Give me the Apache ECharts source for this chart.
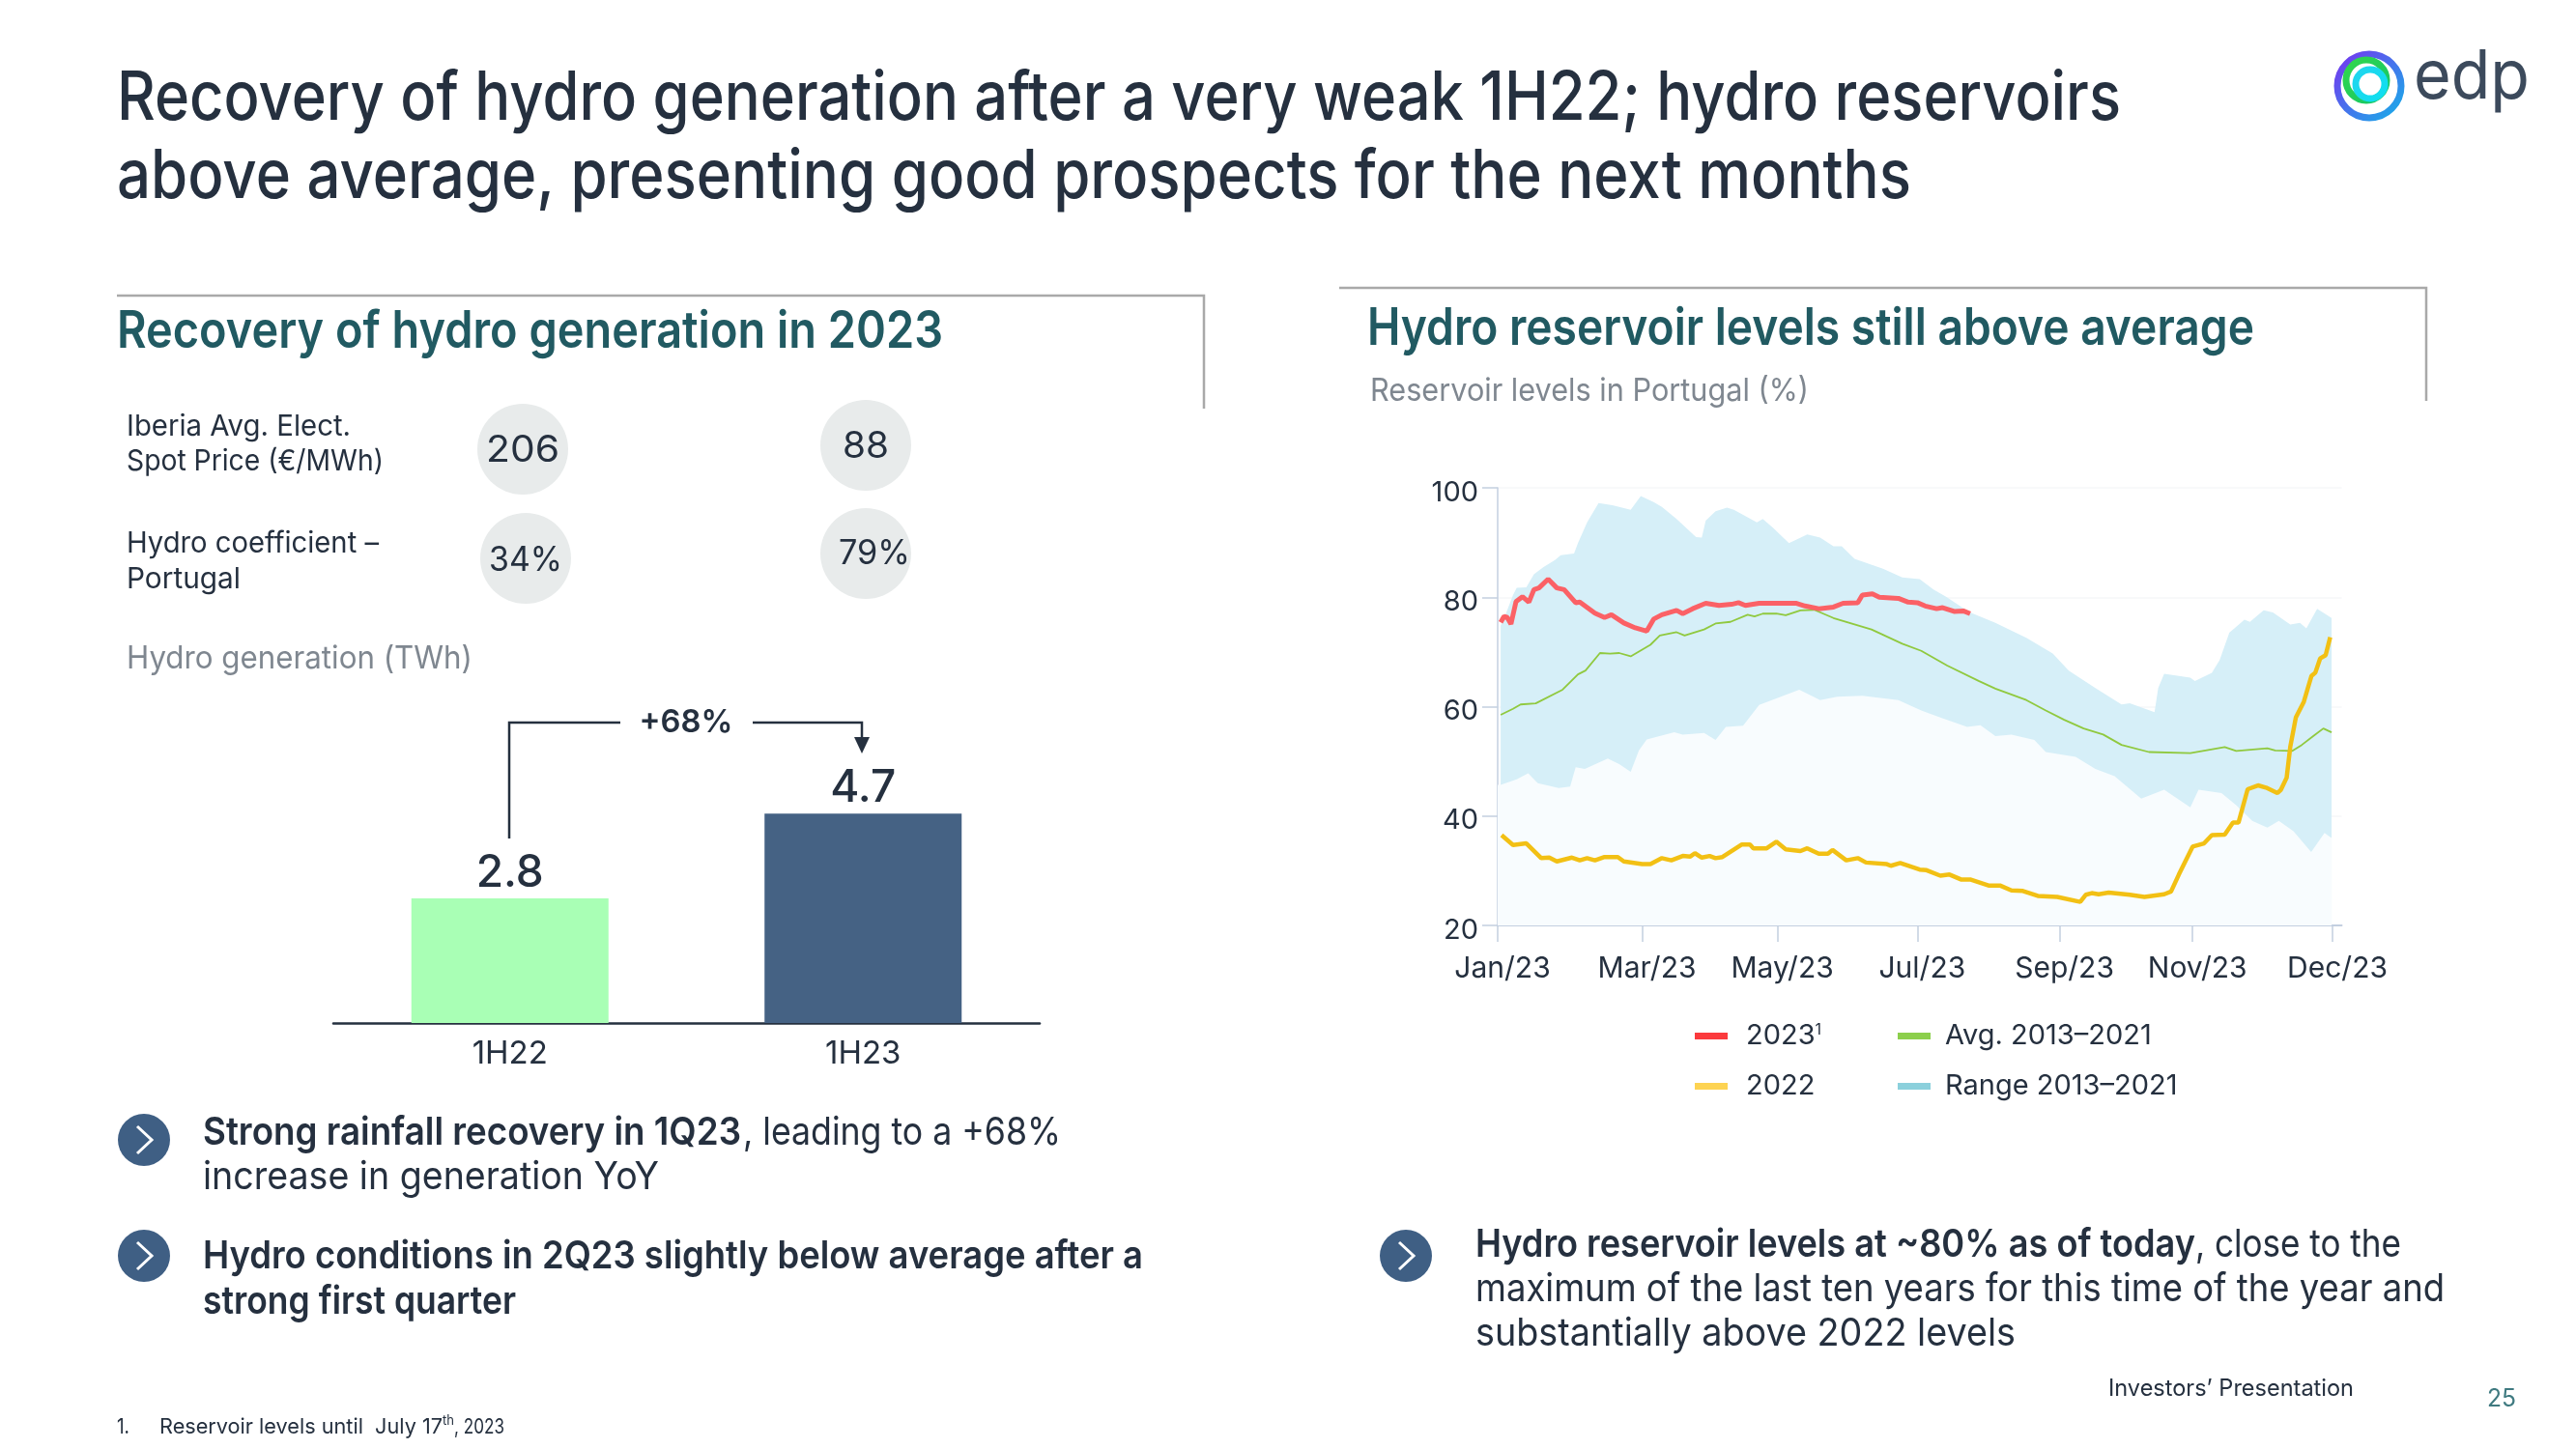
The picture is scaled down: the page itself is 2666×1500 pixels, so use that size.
<!DOCTYPE html>
<html><head><meta charset="utf-8">
<style>html,body{margin:0;padding:0;background:#fff}#c{width:2666px;height:1500px}</style>
<script src="https://cdn.jsdelivr.net/npm/echarts@6/dist/echarts.min.js"></script>
</head><body><div id="c"></div>
<script>
const barCategories=['1H22','1H23'];
const barValues=[2.8,4.7];
const tickDays=[0,63,122,183,245,303,364];
const tickNames=['Jan/23','Mar/23','May/23','Jul/23','Sep/23','Nov/23','Dec/23'];
const upperDays=[1.3,3.3,6.7,8.3,12.5,15.8,20,25,27.5,33.3,35,39,44,50,58,62.4,68,71.6,78,86.5,89,90.7,95,100,103,113,115.6,120,127,135,140.6,146.4,150,155.6,168,176.4,184,190,195.5,205.5,217,230.5,242,249,260.6,272,275.6,286.4,288,290.6,302,304,311.4,314.8,319,325.6,328,334,338,345.6,349.8,352.6,357.3,363.6];
const upperVals=[74.8,76.7,80.4,81.7,81.8,84.2,85.5,86.8,87.7,88,89.9,93.7,97.2,96.8,96,98.5,97.4,96.5,94.3,91,90.9,94,95.7,96.4,96,93.7,94.3,92.7,89.9,91.5,90.9,89.3,89.3,87,85.2,83.6,83.3,81.4,80.1,77.3,75.3,72.6,69.7,66.6,63.4,60.4,60.6,59,63.4,66,65.3,64.7,66.2,68.5,73.5,75.9,75.5,77.6,77.2,75,75.3,74.3,77.9,76.2];
const lowerDays=[0,1.3,8.3,13.3,17.5,26.6,31.6,34,38,48,53,58,61.6,65,77,80.7,90,95,99.5,107,114,121.5,131.5,140.6,148,159,174.7,184.7,193,204.7,210.5,217,224,234,239,252,260.6,269,280.6,290.6,302,305.6,315.6,322,329,335.6,340.6,347,354.7,360.5,363.6];
const lowerVals=[45.7,45.7,46.7,47.8,46,45.1,45.4,48.9,48.6,50.5,49.5,48.1,52,54,55.3,54.9,55.2,53.9,56.3,56.5,60.3,61.5,63.1,61.2,61.8,62,61.2,59.3,58,56.3,56.6,54.6,54.9,53.9,51.7,50.8,48.6,47.3,43.2,44.8,41.6,44.8,44.2,42,39.1,37.9,39.1,37.2,33.4,36.9,36];
const days2023=[1.3,2.8,4.2,5.8,8,10.8,13.6,15.8,18,22,25.8,29,34,35.8,42.4,46.6,49.6,55,60,65,68,71.6,78,80.7,85,90.7,96.5,102,105,108,114,130,134,140,146.4,150.6,157,159,163.4,166.4,174.7,179,183,186.4,191.4,194,199,203,206];
const vals2023=[75.4,76.5,76.3,75.1,79.2,80.1,79.1,81.4,81.7,83.3,81.7,81.4,79,79.1,77.1,76.3,76.8,75.3,74.4,73.8,76,76.8,77.6,77,77.9,78.9,78.5,78.7,79,78.5,78.9,78.9,78.4,77.9,78.2,78.9,79,80.4,80.6,80,79.8,79.1,79,78.4,77.9,78.1,77.4,77.5,77];
const avgDays=[1.3,6.7,10,16.6,28.3,35,38.3,44.6,49,53,58,66.6,70.7,78,81.5,90,95,101.5,109,112,115.6,121.5,125.6,132,138,146.4,163,176.4,184.7,196,209.7,217,230.5,239,247,255.5,264,272,284,302,317,322,335.6,339,346.5,350.6,355.6,360,363.6];
const avgVals=[58.5,59.6,60.4,60.6,63.1,65.9,66.6,69.8,69.7,69.8,69.2,71.3,73,73.6,73,74.1,75.2,75.5,76.8,76.5,77,77,76.7,77.6,77.7,76.2,74.1,71.5,70.2,67.5,64.7,63.3,61.2,59.3,57.6,56,54.9,53,51.7,51.5,52.6,51.9,52.4,52,51.9,53,54.6,56,55.3];
const days2022=[1.7,6.7,12.5,19,22.5,25.8,32.4,35.8,39,42.4,46.6,52.4,55,63,66.6,71.6,75.7,80.7,84,86,89,92.4,95,98,106.5,110,111.5,117.3,121.5,125.6,132,135,140,144,146,152,157,160.6,169.7,171.4,175.5,184,187,193,197,202,206,214,219,224,229,235.5,244,254,256.4,259,262,266.4,275.6,282,290.6,293.6,297,303,308,311.4,317,320.6,323,327,331.5,335,340,341.5,344,345.6,348,351.5,354.8,356.5,358.6,361,363];
const vals2022=[36.5,34.7,35,32.3,32.4,31.7,32.4,31.9,32.3,31.9,32.5,32.5,31.7,31.2,31.2,32.3,31.9,32.7,32.6,33.2,32.4,32.7,32.3,32.5,34.8,34.8,34.1,34.1,35.3,33.9,33.6,34.1,33.1,33.1,33.8,31.9,32.3,31.5,31.2,30.9,31.4,30.2,30.1,29.1,29.3,28.4,28.4,27.3,27.3,26.4,26.3,25.4,25.2,24.3,25.6,25.9,25.7,26,25.6,25.2,25.7,26.2,29.3,34.4,35,36.5,36.6,38.8,38.8,44.9,45.6,45.2,44.2,44.8,47,52.7,58,60.9,65.6,66.2,68.8,69.4,72.7];
const zip=(a,b)=>a.map((d,i)=>[d,b[i]]);

const FONT='Inter',DARK='#25303f',TEAL='#215a62',GREY='#7f8790';
const mctx=document.createElement('canvas').getContext('2d');
function t(text,x,y,size,weight,color,width,align){
  mctx.font=weight+' '+size+'px '+FONT;
  const m=mctx.measureText(text).width;
  return {type:'text',x,y:y+2,scaleX:width?width/m:1,z:10,
    style:{text,x:0,y:0,fontFamily:FONT,fontSize:size,fontWeight:weight,fill:color,align:align||'left',verticalAlign:'middle'}};
}
function poly(points,color,w){return {type:'polyline',z:9,shape:{points},style:{stroke:color,lineWidth:w,fill:null}};}
function circ(cx,cy,r,fill){return {type:'circle',z:8,shape:{cx,cy,r},style:{fill}};}
function chev(cx,cy){return poly([[cx-7,cy-14],[cx+8,cy],[cx-7,cy+14]],'#fff',3);}
function ring(cx,cy,r,w,c1,c2){return {type:'circle',z:8,shape:{cx,cy,r},style:{fill:null,lineWidth:w,
  stroke:new echarts.graphic.LinearGradient(0,0,1,1,[{offset:0,color:c1},{offset:1,color:c2}])}};}

const gfx=[
 t('Recovery of hydro generation after a very weak 1H22; hydro reservoirs',121,101,70,500,DARK,2074),
 t('above average, presenting good prospects for the next months',121,182,70,500,DARK,1857),
 poly([[121,306],[1246,306],[1246,423]],'#a9a9a9',2.5),
 poly([[1386,298],[2511,298],[2511,415]],'#a9a9a9',2.5),
 t('Recovery of hydro generation in 2023',121,342,53,600,TEAL,855),
 t('Hydro reservoir levels still above average',1415,339,53,600,TEAL,918),
 t('Reservoir levels in Portugal (%)',1418,403,33,400,GREY,454),
 t('Iberia Avg. Elect.',131,440,30,400,DARK,232),
 t('Spot Price (€/MWh)',131,476,30,400,DARK,266),
 t('Hydro coefficient –',131,561,30,400,DARK,261),
 t('Portugal',131,598,30,400,DARK,118),
 t('Hydro generation (TWh)',131,680,33,400,GREY,358),
 circ(541,465,47,'#e8ebeb'),circ(896,461,47,'#e8ebeb'),circ(544,578,47,'#e8ebeb'),circ(896,573,47,'#e8ebeb'),
 t('206',541,465,38,400,DARK,76,'center'),t('88',896,461,38,400,DARK,48,'center'),
 t('34%',544,578,35,400,DARK,76,'center'),t('79%',905,571,35,400,DARK,74,'center'),
 poly([[527,868],[527,748],[642,748]],DARK,2.5),
 poly([[779,748],[892,748],[892,768]],DARK,2.5),
 {type:'polygon',z:9,shape:{points:[[884,763],[900,763],[892,780]]},style:{fill:DARK}},
 t('+68%',710,746,33,600,DARK,97,'center'),
 circ(149,1180,27,'#3f5f84'),chev(149,1180),circ(149,1300,27,'#3f5f84'),chev(149,1300),circ(1455,1300,27,'#3f5f84'),chev(1455,1300),
 t('Strong rainfall recovery in 1Q23',210,1171,40,600,DARK,557),
 t(', leading to a +68%',769,1171,40,400,DARK,329),
 t('increase in generation YoY',210,1217,40,400,DARK,472),
 t('Hydro conditions in 2Q23 slightly below average after a',210,1299,40,600,DARK,973),
 t('strong first quarter',210,1346,40,600,DARK,324),
 t('Hydro reservoir levels at ~80% as of today',1527,1287,40,600,DARK,745),
 t(', close to the',2272,1287,40,400,DARK,213),
 t('maximum of the last ten years for this time of the year and',1527,1333,40,400,DARK,1003),
 t('substantially above 2022 levels',1527,1379,40,400,DARK,559),
 t('1.',121,1475,22,400,DARK,13),
 t('Reservoir levels until  July 17',165,1475,22,400,DARK,293),
 t('th',458,1469,14,400,DARK,12),
 t(', 2023',470,1475,22,400,DARK,52),
 t('Investors’ Presentation',2182,1436,24,400,DARK,254),
 t('25',2574,1446,25,400,'#3f7a80',30),
 ring(2452,89,33,7,'#7b2ff0','#12b5e8'),
 ring(2449,83,21,7,'#34d84a','#12c46a'),
 ring(2453,87,15,7,'#22d4ee','#0ee0f0'),
 t('edp',2498,79,70,400,'#3c4a5c',120)
];

const option={
 animation:false,backgroundColor:'#fff',textStyle:{fontFamily:FONT},
 graphic:{elements:gfx},
 legend:[
  {left:1754,top:1058,padding:0,orient:'vertical',itemWidth:34,itemHeight:7,itemGap:23,icon:'rect',
   data:[{name:'2023',itemStyle:{color:'#fb3a3d'}},{name:'2022',itemStyle:{color:'#fdd352'}}],
   formatter:n=>n==='2023'?'2023{s|1}':n,
   textStyle:{fontSize:29,color:DARK,fontFamily:FONT,padding:[0,0,0,14],rich:{s:{fontSize:16,verticalAlign:'top',color:DARK,padding:[0,0,12,0]}}}},
  {left:1964,top:1058,padding:0,orient:'vertical',itemWidth:34,itemHeight:7,itemGap:23,icon:'rect',
   data:[{name:'Avg. 2013–2021',itemStyle:{color:'#8ccf4c'}},{name:'Range 2013–2021',itemStyle:{color:'#8bd0dc'}}],
   textStyle:{fontSize:29,color:DARK,fontFamily:FONT,padding:[0,0,0,10]}}
 ],
 grid:[
  {left:345,top:828.5,width:731,height:230.5},
  {left:1550,top:505,width:873.5,height:453}
 ],
 xAxis:[
  {gridIndex:0,type:'category',data:barCategories,axisTick:{show:false},
   axisLine:{lineStyle:{color:DARK,width:2.5}},
   axisLabel:{fontSize:33,color:DARK,fontFamily:FONT,margin:16}},
  {gridIndex:1,type:'value',min:0,max:368,splitLine:{show:false},
   axisLine:{lineStyle:{color:'#c3cfe0',width:2}},
   axisTick:{length:17,lineStyle:{color:'#c3cfe0',width:1.5},customValues:tickDays},
   axisLabel:{fontSize:30,color:DARK,fontFamily:FONT,margin:30,customValues:tickDays,
     padding:[0,0,0,10],formatter:v=>tickNames[tickDays.indexOf(v)]}}
 ],
 yAxis:[
  {gridIndex:0,type:'value',min:0,max:5,show:false},
  {gridIndex:1,type:'value',min:20,max:100,interval:20,
   splitLine:{lineStyle:{color:'#f6f7f8',width:1.5}},
   axisLine:{show:true,lineStyle:{color:'#c3cfe0',width:1.5}},
   axisTick:{show:true,length:16,lineStyle:{color:'#c3cfe0',width:1.5}},
   axisLabel:{fontSize:29,color:DARK,fontFamily:FONT,margin:20,verticalAlign:'top',lineHeight:10}}
 ],
 series:[
  {type:'bar',xAxisIndex:0,yAxisIndex:0,barWidth:204,silent:true,
   data:[{value:barValues[0],itemStyle:{color:'#a9ffb5'}},{value:barValues[1],itemStyle:{color:'#456284'}}],
   label:{show:true,position:'top',fontSize:46,fontWeight:500,color:DARK,fontFamily:FONT,distance:3,formatter:p=>p.value.toFixed(1)}},
  {name:'Range 2013–2021',type:'line',xAxisIndex:1,yAxisIndex:1,data:zip(upperDays,upperVals),showSymbol:false,
   lineStyle:{width:0},itemStyle:{color:'#8bd0dc'},areaStyle:{color:'#d6eff8',opacity:1,origin:'start'},z:2},
  {name:'lower',type:'line',xAxisIndex:1,yAxisIndex:1,data:zip(lowerDays,lowerVals),showSymbol:false,
   lineStyle:{width:0},areaStyle:{color:'#f8fcfe',opacity:1,origin:'start'},z:3},
  {name:'Avg. 2013–2021',type:'line',xAxisIndex:1,yAxisIndex:1,data:zip(avgDays,avgVals),showSymbol:false,
   lineStyle:{width:1.8,color:'#90c93f'},itemStyle:{color:'#90c93f'},z:4},
  {name:'2022',type:'line',xAxisIndex:1,yAxisIndex:1,data:zip(days2022,vals2022),showSymbol:false,
   lineStyle:{width:4.5,color:'#f2c014'},itemStyle:{color:'#f2c014'},z:5},
  {name:'2023',type:'line',xAxisIndex:1,yAxisIndex:1,data:zip(days2023,vals2023),showSymbol:false,
   lineStyle:{width:5,color:'#fb6166'},itemStyle:{color:'#fb6166'},z:6}
 ]
};
echarts.init(document.getElementById('c')).setOption(option);
</script></body></html>
